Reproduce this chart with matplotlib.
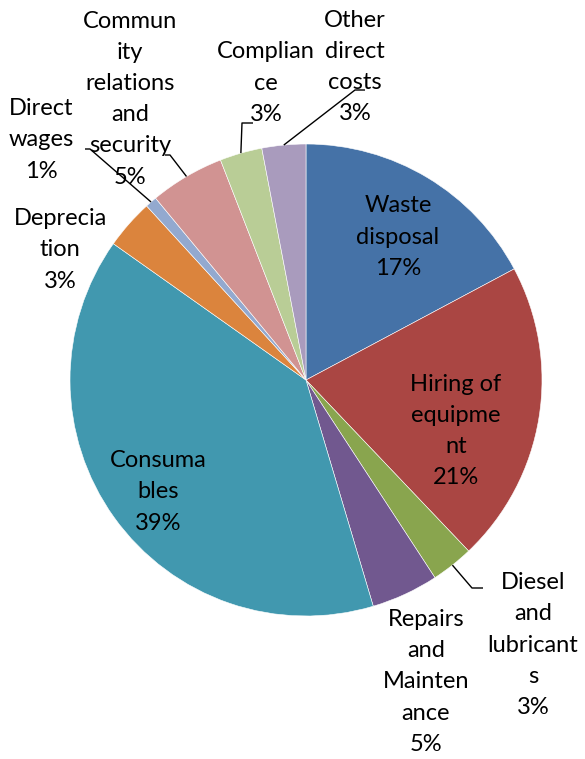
import matplotlib
matplotlib.use("Agg")
import matplotlib.pyplot as plt
import numpy as np

# ---- data ----
categories = ["Waste\ndisposal", "Hiring of\nequipme\nnt", "Diesel\nand\nlubricant\ns",
              "Repairs\nand\nMainten\nance", "Consuma\nbles", "Deprecia\ntion",
              "Direct\nwages", "Commun\nity\nrelations\nand\nsecurity", "Complian\nce",
              "Other\ndirect\ncosts"]
values = [17.2, 20.7, 2.9, 4.6, 39.4, 3.4, 0.8, 5.1, 2.9, 3.0]
colors = ["#4572A7", "#AA4643", "#89A54E", "#71588F", "#4198AF", "#DB843D",
          "#93A9CF", "#D19392", "#B9CD96", "#A99BBD"]

W, H = 585, 759
fig = plt.figure(figsize=(W / 100, H / 100), dpi=100)
ax = fig.add_axes([0, 0, 1, 1])

cx, cy, R = 306, 380, 236  # pixel coords from top
wedges, _ = ax.pie(values, colors=colors, startangle=90, counterclock=False,
                   center=(cx, H - cy), radius=R, frame=True,
                   wedgeprops=dict(linewidth=0.4, edgecolor="white"))
ax.set_xlim(0, W)
ax.set_ylim(0, H)
ax.set_aspect("equal")
ax.axis("off")

# label centers (pixels from top)
label_pos = [(398, 237), (456, 431), (533, 645), (426, 682), (158, 492),
             (60, 250), (41, 140), (130, 99), (266, 83), (355, 67)]
FS = 17
for name, v, (lx, ly) in zip(categories, values, label_pos):
    ax.text(lx, H - ly, f"{name}\n{round(v)}%", ha="center", va="center",
            multialignment="center", fontsize=FS, family="Lato",
            linespacing=1.6, color="black")

# leader lines: (index, [intermediate points from top])
leaders = {2: [(472, 588), (483, 588)],
           9: [(355, 90), (365, 90)],
           8: [(242, 123), (253, 123)],
           7: [(170, 155), (165, 155)],
           6: [(90, 149), (85, 149)]}
for i, pts in leaders.items():
    w = wedges[i]
    mid = np.deg2rad((w.theta1 + w.theta2) / 2)
    x0 = cx + R * np.cos(mid)
    y0 = (H - cy) + R * np.sin(mid)
    xs = [x0] + [p[0] for p in pts]
    ys = [y0] + [H - p[1] for p in pts]
    ax.plot(xs, ys, color="black", linewidth=1.0, solid_capstyle="butt")

fig.savefig("out.png", dpi=100)
